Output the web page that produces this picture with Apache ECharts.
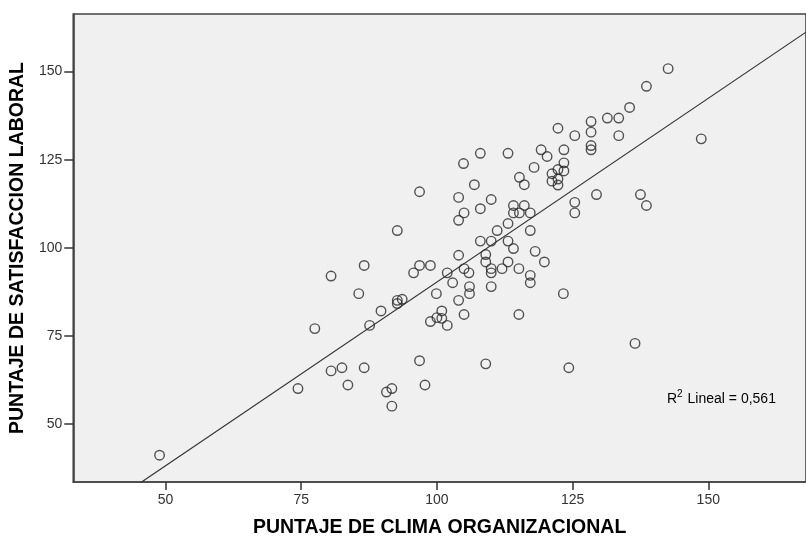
<!DOCTYPE html>
<html>
<head>
<meta charset="utf-8">
<script src="https://cdn.jsdelivr.net/npm/echarts@6/dist/echarts.min.js"></script>
<style>
html,body{margin:0;padding:0;background:#fff;}
#chart{width:806px;height:543px;}
</style>
</head>
<body>
<div id="chart"></div>
<script>
// Puntaje de clima organizacional (x)
const climaX = [108.0,113.1,104.9,106.9,96.8,104.0,110.0,115.2,116.1,117.9,
142.6,138.6,135.5,131.4,133.5,128.4,128.4,133.5,125.4,122.3,
128.4,128.4,123.4,119.2,120.3,123.4,123.4,122.3,121.2,121.2,
122.3,122.3,148.7,129.4,137.5,125.4,125.4,138.6,108.0,105.0,
104.0,114.1,116.1,114.1,115.2,117.2,92.7,111.1,113.1,117.2,
108.0,110.0,113.1,114.1,118.1,104.0,109.0,109.0,113.1,86.6,
96.8,98.8,95.7,101.9,105.0,105.9,110.0,110.0,112.0,115.1,
117.2,117.2,80.5,102.9,106.0,106.0,110.0,85.6,99.9,104.0,
92.7,93.6,92.7,89.7,100.9,105.0,100.0,100.9,98.8,101.9,
115.1,87.6,77.5,96.8,109.0,80.5,82.5,86.6,83.6,97.8,
74.4,91.7,90.7,91.7,119.8,123.3,136.5,124.3,48.9];
// Puntaje de satisfaccion laboral (y)
const satisY = [126.8,126.8,123.9,117.9,115.9,114.3,113.7,120.0,117.9,122.8,
150.8,145.8,139.8,136.8,136.8,135.8,132.8,131.8,131.8,133.9,
129.0,127.8,127.8,127.8,125.9,124.1,121.8,122.2,121.0,118.9,
119.5,117.8,130.9,115.1,115.1,112.9,109.9,112.0,111.1,109.9,
107.8,112.0,112.0,109.9,109.9,109.9,104.9,104.9,106.9,104.9,
101.9,101.9,101.9,99.8,99.0,97.9,98.1,96.0,96.0,95.0,
95.0,95.0,92.9,92.9,94.1,92.9,94.1,92.9,94.1,94.1,
92.2,90.1,92.0,90.1,89.0,87.0,89.0,87.0,87.0,85.1,
85.1,85.4,84.2,82.1,82.1,81.1,80.2,80.0,79.1,78.0,
81.1,78.0,77.1,68.0,67.1,65.1,66.0,66.0,61.1,61.1,
60.1,60.1,59.1,55.1,96.0,87.0,72.9,66.0,41.2];
const tickValues = [50, 75, 100, 125, 150];
const fitIntercept = -13.9;
const fitSlope = 1.042;
const r2Text = '0,561';

const xMin = 33, xMax = 168, yMin = 33.6, yMax = 166.3;
const points = climaX.map((x, i) => [x, satisY[i]]);
const fitLine = [xMin, xMax].map(x => [x, fitIntercept + fitSlope * x]);

const FONT = 'Liberation Sans, Arial, sans-serif';
const chart = echarts.init(document.getElementById('chart'), null, {renderer: 'canvas'});
chart.setOption({
  animation: false,
  backgroundColor: '#ffffff',
  grid: {left: 73, top: 14, right: -5, bottom: 60, show: true,
         backgroundColor: '#f0f0f0', borderColor: '#444', borderWidth: 1.6},
  xAxis: {
    type: 'value', min: xMin, max: xMax,
    name: 'PUNTAJE DE CLIMA ORGANIZACIONAL', nameLocation: 'middle', nameGap: 36,
    nameTextStyle: {fontFamily: FONT, fontSize: 19.5, fontWeight: 'bold', color: '#000'},
    axisLine: {show: true, lineStyle: {color: '#444', width: 1.6}},
    axisTick: {show: true, length: 8, customValues: tickValues, lineStyle: {color: '#333', width: 1.5}},
    axisLabel: {customValues: tickValues, margin: 11, fontFamily: FONT, fontSize: 14, color: '#333'},
    splitLine: {show: false}
  },
  yAxis: {
    type: 'value', min: yMin, max: yMax,
    name: 'PUNTAJE DE SATISFACCION LABORAL', nameLocation: 'middle', nameGap: 38, nameRotate: 90,
    nameTextStyle: {fontFamily: FONT, fontSize: 19.5, fontWeight: 'bold', color: '#000'},
    axisLine: {show: true, lineStyle: {color: '#444', width: 1.6}},
    axisTick: {show: true, length: 9, customValues: tickValues, lineStyle: {color: '#333', width: 1.5}},
    axisLabel: {customValues: tickValues, margin: 11, fontFamily: FONT, fontSize: 14, color: '#333'},
    splitLine: {show: false}
  },
  series: [
    {
      type: 'line', data: fitLine, symbol: 'none', clip: true, silent: true,
      lineStyle: {color: '#333', width: 1.2}
    },
    {
      type: 'scatter', data: points, symbol: 'circle', symbolSize: 9.5,
      itemStyle: {color: 'rgba(0,0,0,0)', borderColor: '#2a2a2a', borderWidth: 1.4}
    }
  ],
  graphic: [{
    type: 'text', left: 667, top: 389,
    style: {
      text: '{n|R}{s|2}{n| Lineal = ' + r2Text + '}',
      rich: {
        n: {fontFamily: FONT, fontSize: 14, color: '#222', verticalAlign: 'bottom'},
        s: {fontFamily: FONT, fontSize: 10, color: '#222', verticalAlign: 'top', padding: [0, 1, 7, 0]}
      }
    }
  }]
});
</script>
</body>
</html>
